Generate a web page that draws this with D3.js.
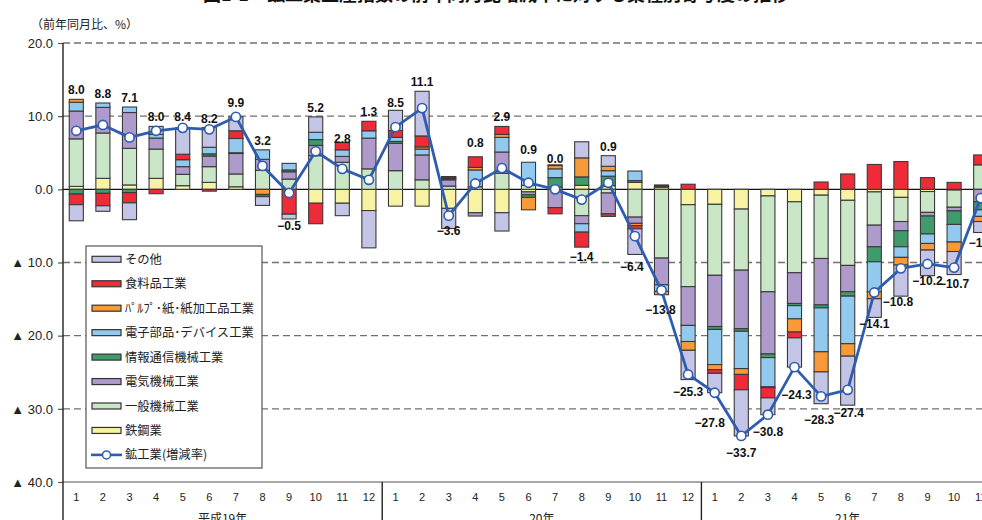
<!DOCTYPE html>
<html>
<head>
<meta charset="utf-8">
<script src="https://cdn.jsdelivr.net/npm/d3@7"></script>
<style>
  html, body { margin: 0; padding: 0; background: #fff; overflow: hidden; }
  svg { display: block; }
</style>
</head>
<body>
<svg id="chart" width="982" height="520"></svg>
<script>
// ---- data -------------------------------------------------------------
const yearLabels = ["平成19年", "20年", "21年"];
const monthsPerYear = [12, 12, 11];
const monthLabels = [
  "1","2","3","4","5","6","7","8","9","10","11","12",
  "1","2","3","4","5","6","7","8","9","10","11","12",
  "1","2","3","4","5","6","7","8","9","10","11"
];

// Contribution to the year-on-year change (percentage points), by industry
const steel      = [0.4, 1.5, 0.6, 1.5, 0.5, 0.95, 0.35, 0, 0, -1.9, -1.9, -2.9,
                    -2.3, -2.3, -2.6, -3.2, -3.2, -0.35, 0.3, 0.55, 0.5, 0.95, 0.3, -2.1,
                    -2.05, -2.7, -0.9, -1.7, -0.8, -1.5, -0.35, -1.1, -0.3, -0.1, 0];
const generalMach = [6.5, 6.2, 5.0, 4.0, 1.55, 2.15, 1.75, 2.6, 1.4, 4.6, 3.7, 2.8,
                    2.55, 1.3, 0.45, 0.35, 2.2, 0.55, 0, -3.6, -0.5, -3.8, -9.4, -11.2,
                    -9.7, -8.35, -13.1, -9.7, -8.65, -8.9, -4.55, -3.3, -2.85, -2.35, 3.35];
const electrical = [3.8, 3.5, 4.9, 1.5, 1.05, 1.45, 2.8, 1.5, 1.0, 1.4, 0.8, 4.2,
                    3.75, 3.4, 0.85, -0.45, 2.9, -0.4, -2.5, -1.1, -2.85, -0.85, -3.65, -5.3,
                    -7.0, -8.0, -8.5, -4.2, -6.35, -3.6, -2.95, -1.25, -0.5, -0.5, -1.7];
const infoComm   = [-0.65, -0.55, -0.45, 0, 0, 0.3, 0.1, 0, 0.25, 0.8, 0, 0,
                    0.25, 0, 0.1, 0, 0, -0.35, 1.3, 1.15, 1.3, 0.25, 0, 0,
                    -0.4, -0.35, -0.5, -0.3, -0.4, -0.6, -2.05, -2.2, -2.45, -1.85, -1.1];
const devices    = [1.2, 0.6, 0.75, 0.5, 0.95, 0.9, 1.95, 1.3, 0.9, 1.0, 0.9, 1.0,
                    0.55, 0.8, 0.15, 2.3, 2.0, 3.15, 1.2, -1.15, 0.75, 1.3, -0.9, -2.2,
                    -4.8, -5.1, -4.0, -1.8, -6.0, -6.5, -4.1, -1.45, -1.3, -2.4, -0.9];
const pulpPaper  = [0.4, 0, 0, 0, 0, 0, 0, -0.7, 0, 0, 0, 0,
                    0, 0.3, 0.1, 0.35, 0.4, -1.7, 0.45, 2.6, 0.6, -0.3, -0.45, -1.2,
                    -0.7, -0.8, -0.1, -1.8, -2.75, -1.7, -0.95, -1.05, -0.9, -1.3, -0.7];
const food       = [-1.45, -1.7, -1.4, -0.6, 0.75, -0.25, 1.05, -0.3, -3.4, -2.8, 1.0, 1.3,
                    0.95, 1.5, 0.1, 1.45, 1.1, 0, -0.85, -2.05, -0.35, -0.45, 0.15, 0.7,
                    -0.5, -2.1, -1.4, -0.8, 1.0, 2.1, 3.4, 3.8, 1.6, 0.95, 1.35];
const others     = [-2.2, -0.75, -2.3, 1.1, 3.6, 2.7, 1.9, -1.2, -0.65, 2.1, -1.7, -5.1,
                    2.75, 6.1, -2.75, 0, -2.5, 0, 0.1, 2.2, 1.45, -3.5, 0.15, -4.0,
                    -2.65, -6.3, -2.3, -4.0, -4.35, -6.7, -2.55, -4.25, -3.5, -3.15, -1.5];

// Mining and manufacturing production, year-on-year change (%)
const miningTotal = [8.0, 8.8, 7.1, 8.0, 8.4, 8.2, 9.9, 3.2, -0.5, 5.2, 2.8, 1.3,
                     8.5, 11.1, -3.6, 0.8, 2.9, 0.9, 0.0, -1.4, 0.9, -6.4, -13.8, -25.3,
                     -27.8, -33.7, -30.8, -24.3, -28.3, -27.4, -14.1, -10.8, -10.2, -10.7, -1.2];

const yTicks = [20, 10, 0, -10, -20, -30, -40];

// ---- series definitions (stack order from the zero line outward) ------
const series = [
  { key: "steel",   name: "鉄鋼業",                 values: steel,       color: "#f8f3a2" },
  { key: "general", name: "一般機械工業",           values: generalMach, color: "#c9e6c6" },
  { key: "elec",    name: "電気機械工業",           values: electrical,  color: "#ae9acb" },
  { key: "info",    name: "情報通信機械工業",       values: infoComm,    color: "#409b6c" },
  { key: "device",  name: "電子部品･デバイス工業",  values: devices,     color: "#92c9ee" },
  { key: "pulp",    name: "ﾊﾟﾙﾌﾟ･紙･紙加工品工業",   values: pulpPaper,   color: "#f79a37" },
  { key: "food",    name: "食料品工業",             values: food,        color: "#ee2b36" },
  { key: "other",   name: "その他",                 values: others,      color: "#c4c5e6" }
];
const lineColor = "#2f5caf";

const n = monthLabels.length;
const rows = d3.range(n).map(i => {
  const r = { i };
  series.forEach(s => { r[s.key] = s.values[i]; });
  return r;
});

// ---- layout ------------------------------------------------------------
const svg = d3.select("#chart");
const plot = { left: 63, top: 43, bottom: 482, right: 994 };

const x = d3.scaleBand().domain(d3.range(n)).range([plot.left, plot.right]).padding(0);
const y = d3.scaleLinear().domain([-40, 20]).range([plot.bottom, plot.top]);
const barW = x.bandwidth() * 0.53;
const cx = i => x(i) + x.bandwidth() / 2;

const numFont = "'Liberation Sans', Arial, Helvetica, sans-serif";
const jpFont = "'Noto Sans CJK JP', 'Noto Sans', sans-serif";

// title (runs off the top edge)
svg.append("text")
  .attr("x", 496).attr("y", 1)
  .attr("text-anchor", "middle")
  .attr("font-family", jpFont).attr("font-weight", "bold").attr("font-size", 18)
  .attr("fill", "#111")
  .text("図1-1　鉱工業生産指数の前年同月比増減率に対する業種別寄与度の推移");

// unit label
svg.append("text")
  .attr("x", 31).attr("y", 29)
  .attr("font-family", jpFont).attr("font-size", 12)
  .attr("fill", "#222")
  .text("（前年同月比、%）");

// grid lines
const grid = svg.append("g");
yTicks.filter(v => v !== 0 && v !== -40).forEach(v => {
  grid.append("line")
    .attr("x1", plot.left).attr("x2", 982)
    .attr("y1", y(v)).attr("y2", y(v))
    .attr("stroke", "#707070").attr("stroke-width", 1.3)
    .attr("stroke-dasharray", "7,4");
});
// zero line
grid.append("line")
  .attr("x1", plot.left).attr("x2", 982)
  .attr("y1", y(0)).attr("y2", y(0))
  .attr("stroke", "#111").attr("stroke-width", 1.3);
// bottom axis line
grid.append("line")
  .attr("x1", plot.left).attr("x2", 982)
  .attr("y1", y(-40)).attr("y2", y(-40))
  .attr("stroke", "#8a8a8a").attr("stroke-width", 1.6);

// y axis
const yAxis = d3.axisLeft(y)
  .tickValues(yTicks)
  .tickSize(5)
  .tickFormat(d => d < 0 ? "▲ " + (-d).toFixed(1) : d.toFixed(1));
const gy = svg.append("g")
  .attr("transform", `translate(${plot.left},0)`)
  .call(yAxis);
gy.select(".domain").remove();
gy.selectAll(".tick line").attr("stroke", "#555").attr("stroke-width", 1.2);
gy.selectAll(".tick text")
  .attr("x", -10)
  .attr("font-family", numFont).attr("font-size", 13).attr("fill", "#222");
svg.append("line")
  .attr("x1", plot.left).attr("x2", plot.left)
  .attr("y1", plot.top).attr("y2", 520)
  .attr("stroke", "#222").attr("stroke-width", 1.4);

// month and year labels
const gx = svg.append("g");
monthLabels.forEach((m, i) => {
  gx.append("text")
    .attr("x", cx(i)).attr("y", 501)
    .attr("text-anchor", "middle")
    .attr("font-family", numFont).attr("font-size", 11).attr("fill", "#222")
    .text(m);
});
let start = 0;
yearLabels.forEach((yl, k) => {
  const end = start + monthsPerYear[k];
  const x0 = x(start), x1 = x(end - 1) + x.bandwidth();
  gx.append("text")
    .attr("x", (x0 + x1) / 2).attr("y", 523)
    .attr("text-anchor", "middle")
    .attr("font-family", jpFont).attr("font-size", 12).attr("fill", "#222")
    .text(yl);
  if (k > 0) {
    gx.append("line")
      .attr("x1", x0).attr("x2", x0)
      .attr("y1", plot.bottom).attr("y2", 520)
      .attr("stroke", "#222").attr("stroke-width", 1.4);
  }
  start = end;
});

// stacked contribution bars
const stack = d3.stack()
  .keys(series.map(s => s.key))
  .offset(d3.stackOffsetDiverging);
const layers = stack(rows);

const gBars = svg.append("g");
layers.forEach((layer, li) => {
  gBars.append("g")
    .attr("fill", series[li].color)
    .selectAll("rect")
    .data(layer.filter(d => d[1] - d[0] !== 0))
    .join("rect")
    .attr("x", d => cx(d.data.i) - barW / 2)
    .attr("width", barW)
    .attr("y", d => y(Math.max(d[0], d[1])))
    .attr("height", d => Math.abs(y(d[0]) - y(d[1])))
    .attr("stroke", "#3a3a3a")
    .attr("stroke-width", 1.1);
});

// growth-rate line
svg.append("path")
  .datum(miningTotal)
  .attr("fill", "none")
  .attr("stroke", lineColor)
  .attr("stroke-width", 2.8)
  .attr("stroke-linejoin", "round")
  .attr("d", d3.line().x((v, i) => cx(i)).y(v => y(v)));
svg.append("g")
  .selectAll("circle")
  .data(miningTotal)
  .join("circle")
  .attr("cx", (v, i) => cx(i)).attr("cy", v => y(v))
  .attr("r", 4.6)
  .attr("fill", "#fff").attr("stroke", lineColor).attr("stroke-width", 1.6);

// value labels: above the stack for growth, below it for decline,
// with small shifts where a label would sit on the line
const stackTop = d3.range(n).map(i => d3.sum(series, s => Math.max(0, s.values[i])));
const stackBottom = d3.range(n).map(i => d3.sum(series, s => Math.min(0, s.values[i])));
const labelNudge = {
  4: [0, -2], 6: [0, -5], 8: [0, -3], 10: [0, 5], 12: [0, 2], 14: [0, -7],
  15: [0, -5], 17: [0, -3], 18: [0, 3], 21: [-3, 3], 22: [-1, 5], 23: [0, 2],
  24: [-5, 20], 25: [0, 7], 26: [0, 7], 27: [2, 18], 28: [-2, 6], 29: [1, -2],
  30: [0, -3], 31: [-3, -4], 32: [0, -5], 33: [0, -1]
};
const fmt = v => (v < 0 ? "−" : "") + Math.abs(v).toFixed(1);
svg.append("g")
  .selectAll("text")
  .data(miningTotal)
  .join("text")
  .attr("x", (v, i) => cx(i) + (labelNudge[i] ? labelNudge[i][0] : 0))
  .attr("y", (v, i) => {
    const base = v >= 0 ? y(stackTop[i]) - 5 : y(stackBottom[i]) + 14;
    return base + (labelNudge[i] ? labelNudge[i][1] : 0);
  })
  .attr("text-anchor", "middle")
  .attr("font-family", numFont).attr("font-weight", "bold").attr("font-size", 12)
  .attr("fill", "#111")
  .text(v => fmt(v));

// legend
const legendItems = series.slice().reverse();
const lg = svg.append("g");
lg.append("rect")
  .attr("x", 86).attr("y", 246).attr("width", 176).attr("height", 222)
  .attr("fill", "#fff").attr("stroke", "#555").attr("stroke-width", 1.2);
const rowY = k => 259.3 + k * 24.45;
legendItems.forEach((s, k) => {
  lg.append("rect")
    .attr("x", 92).attr("y", rowY(k) - 3).attr("width", 29).attr("height", 6)
    .attr("fill", s.color).attr("stroke", "#333").attr("stroke-width", 1.2);
  lg.append("text")
    .attr("x", 125).attr("y", rowY(k) + 4.5)
    .attr("font-family", jpFont).attr("font-size", 12.3).attr("fill", "#222")
    .text(s.name);
});
const kl = legendItems.length;
lg.append("line")
  .attr("x1", 91).attr("x2", 122)
  .attr("y1", rowY(kl)).attr("y2", rowY(kl))
  .attr("stroke", lineColor).attr("stroke-width", 2.6);
lg.append("circle")
  .attr("cx", 106.5).attr("cy", rowY(kl)).attr("r", 4)
  .attr("fill", "#fff").attr("stroke", lineColor).attr("stroke-width", 1.5);
lg.append("text")
  .attr("x", 125).attr("y", rowY(kl) + 4.5)
  .attr("font-family", jpFont).attr("font-size", 12.3).attr("fill", "#222")
  .text("鉱工業(増減率)");
</script>
</body>
</html>
